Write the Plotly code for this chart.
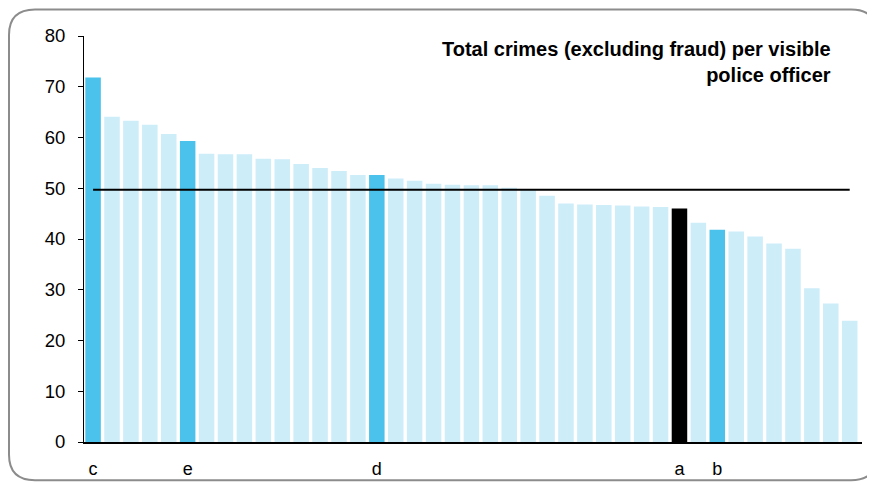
import plotly.graph_objects as go

# ---- data ----
values = [71.8, 64.1, 63.3, 62.5, 60.7, 59.3, 56.8, 56.7, 56.7, 55.8,
          55.7, 54.8, 54.0, 53.4, 52.6, 52.6, 51.9, 51.5, 50.9, 50.7,
          50.6, 50.6, 50.1, 49.8, 48.5, 47.0, 46.8, 46.7, 46.6, 46.4,
          46.3, 46.0, 43.2, 41.8, 41.5, 40.5, 39.1, 38.1, 30.3, 27.3, 23.9]
labels = [""] * len(values)
labels[0] = "c"
labels[5] = "e"
labels[15] = "d"
labels[31] = "a"
labels[33] = "b"
highlight = {0: "blue", 5: "blue", 15: "blue", 31: "black", 33: "blue"}
average = 49.7
title_text = "Total crimes (excluding fraud) per visible<br>police officer"
y_ticks = [0, 10, 20, 30, 40, 50, 60, 70, 80]

LIGHT = "#CDEDF9"
BLUE = "#4AC2EC"
BLACK = "#000000"
colors = []
for i in range(len(values)):
    h = highlight.get(i)
    colors.append(BLUE if h == "blue" else BLACK if h == "black" else LIGHT)

x = list(range(len(values)))
tickvals = [i for i, l in enumerate(labels) if l]
ticktext = [labels[i] for i in tickvals]

# page body has an 8px margin, so the figure is drawn at (8, 8)
W, H = 867, 483
L, R, T, B = 76, 13, 28, 40
pw, ph = W - L - R, H - T - B


def px2paper(px, py):
    return (px - L) / pw, (H - B - py) / ph


def rounded_rect(x0, y0, x1, y1, r):
    def p(a, b):
        u, v = px2paper(a, b)
        return f"{u:.5f},{v:.5f}"
    return (f"M {p(x0 + r, y0)} L {p(x1 - r, y0)} Q {p(x1, y0)} {p(x1, y0 + r)} "
            f"L {p(x1, y1 - r)} Q {p(x1, y1)} {p(x1 - r, y1)} "
            f"L {p(x0 + r, y1)} Q {p(x0, y1)} {p(x0, y1 - r)} "
            f"L {p(x0, y0 + r)} Q {p(x0, y0)} {p(x0 + r, y0)} Z")


fig = go.Figure()
fig.add_trace(go.Bar(x=x, y=values, marker=dict(color=colors, line=dict(width=0)),
                     showlegend=False))
fig.add_trace(go.Scatter(x=[x[0], x[-1]], y=[average, average], mode="lines",
                         line=dict(color="black", width=2), showlegend=False))

fig.update_layout(
    width=W, height=H,
    margin=dict(l=L, r=R, t=T, b=B),
    paper_bgcolor="white", plot_bgcolor="white",
    bargap=0.18,
    font=dict(family="Liberation Sans, Arial, sans-serif", color="black", size=18),
    xaxis=dict(range=[-0.48, len(values) - 0.35], tickvals=tickvals, ticktext=ticktext,
               showline=True, linecolor="black", linewidth=1.5, ticks="",
               showgrid=False, zeroline=False, ticklabelstandoff=10,
               tickfont=dict(size=18)),
    yaxis=dict(range=[0, 80], tickvals=y_ticks, showline=True, linecolor="black",
               linewidth=1, ticks="outside", ticklen=5, tickcolor="black",
               showgrid=False, zeroline=False, tickfont=dict(size=18.5),
               ticklabelstandoff=9),
    annotations=[dict(text="<b>" + title_text + "</b>", xref="paper", yref="paper",
                      x=(825 - L) / pw, y=px2paper(0, 28)[1], xanchor="right",
                      yanchor="top", align="right", showarrow=False,
                      font=dict(size=20, color="black"))],
    shapes=[dict(type="path", xref="paper", yref="paper",
                 path=rounded_rect(1, 1, 869, 482, 26),
                 line=dict(color="#8C8C8C", width=2), layer="below")],
)

fig.write_html("out.html")
